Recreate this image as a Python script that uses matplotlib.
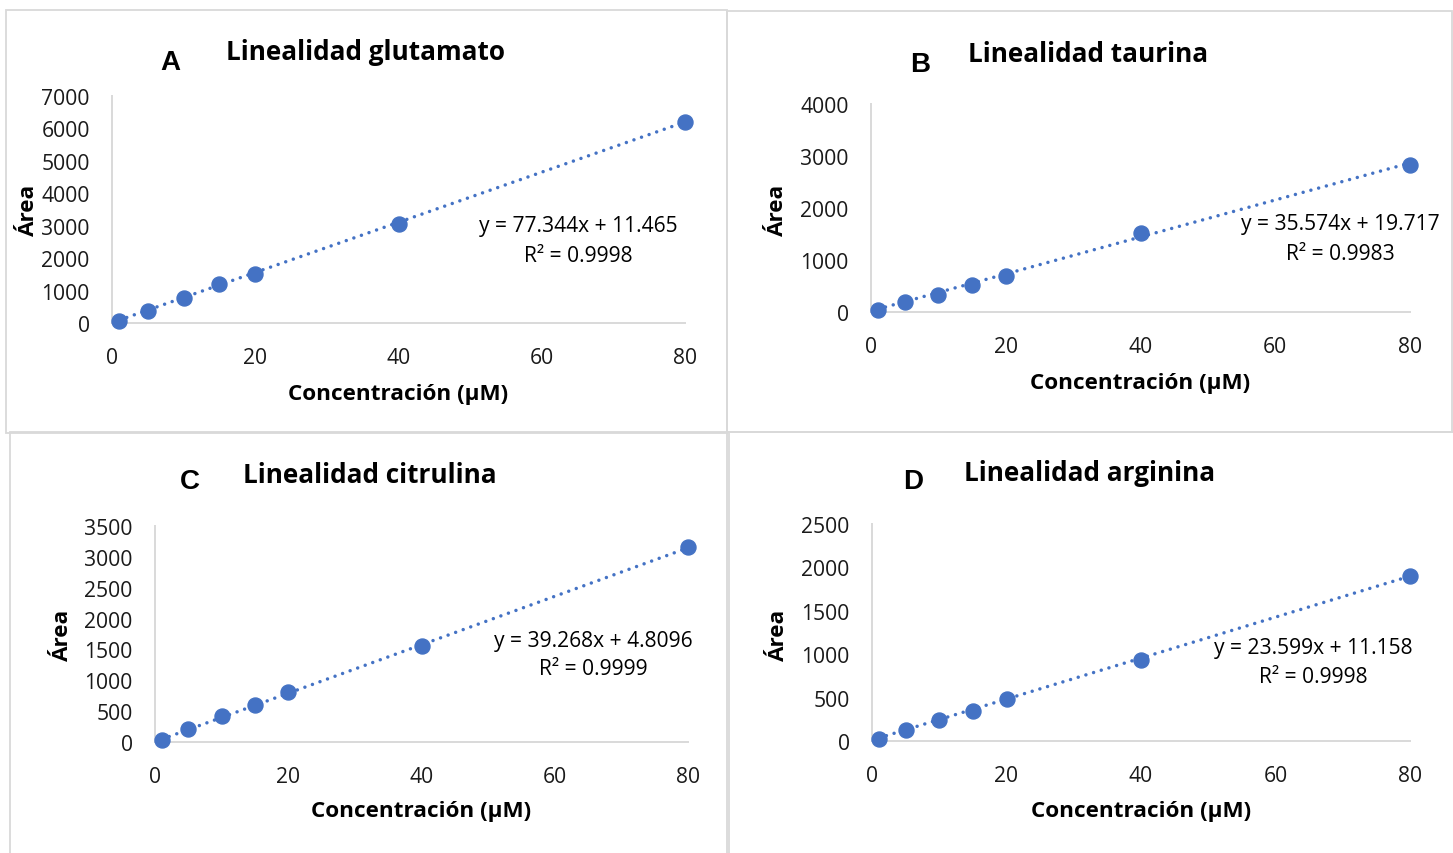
import matplotlib
matplotlib.use("Agg")
import matplotlib.pyplot as plt
from matplotlib.patches import Rectangle
import numpy as np

W, H = 1453, 854

# ---- data ----
conc = [1, 5, 10, 15, 20, 40, 80]
glutamato = [62, 370, 771, 1203, 1511, 3053, 6198]
taurina = [38, 192, 327, 519, 692, 1519, 2827]
citrulina = [32, 211, 421, 600, 810, 1555, 3160]
arginina = [23, 127, 242, 346, 484, 933, 1901]

titles = ["Linealidad glutamato", "Linealidad taurina", "Linealidad citrulina", "Linealidad arginina"]
letters = ["A", "B", "C", "D"]
slopes = [77.344, 35.574, 39.268, 23.599]
intercepts = [11.465, 19.717, 4.8096, 11.158]
eq_labels = ["y = 77.344x + 11.465", "y = 35.574x + 19.717", "y = 39.268x + 4.8096", "y = 23.599x + 11.158"]
r2_labels = ["R² = 0.9998", "R² = 0.9983", "R² = 0.9999", "R² = 0.9998"]
ymaxes = [7000, 4000, 3500, 2500]
ysteps = [1000, 1000, 500, 500]
xticks = [0, 20, 40, 60, 80]
series = [glutamato, taurina, citrulina, arginina]

# ---- layout (pixels) ----
axes_px = [(112, 685, 97, 324), (871, 1410, 105, 313), (155, 688, 527, 743), (872, 1410, 525, 742)]
title_px = [(366, 52), (1088, 54), (370, 476), (1090, 474)]
letter_px = [(170, 63), (920, 65), (190, 482), (913, 482)]
xlabel_px = [(398, 395), (1140, 384), (421, 812), (1141, 812)]
ylabel_px = [(28, 210), (777, 210), (62, 635), (778, 635)]
eq_px = [(578, 227, 256), (1340, 225, 254), (593, 642, 670), (1313, 649, 678)]
boxes_px = [(6, 11, 727, 434), (727, 12, 1452, 433), (10, 433, 727, 860), (729, 433, 1460, 860)]

BLUE = "#4472C4"
GRAY = "#D9D9D9"
FONT = ["Open Sans", "DejaVu Sans"]

fig = plt.figure(figsize=(W / 100, H / 100), dpi=100)
fig.patch.set_facecolor("white")

def fx(x):
    return x / W

def fy(y):
    return 1 - y / H

for (x0, y0, x1, y1) in boxes_px:
    fig.patches.append(Rectangle((fx(x0), fy(y1)), fx(x1) - fx(x0), fy(y0) - fy(y1),
                                 transform=fig.transFigure, fill=False,
                                 edgecolor=GRAY, linewidth=1.3, zorder=0))

for i in range(4):
    l, r, t, b = axes_px[i]
    ax = fig.add_axes([fx(l), fy(b), fx(r) - fx(l), fy(t) - fy(b)])
    ax.set_facecolor("none")
    ys = series[i]
    xs_line = np.array([min(conc), max(conc)])
    ax.plot(xs_line, slopes[i] * xs_line + intercepts[i], color=BLUE, lw=2.5,
            linestyle=(0, (0.01, 2.3)), dash_capstyle="round", zorder=2, clip_on=False)
    ax.plot(conc, ys, "o", color=BLUE, ms=10.8, mec=BLUE, zorder=3, clip_on=False)
    ax.set_xlim(0, 80)
    ax.set_ylim(0, ymaxes[i])
    ax.set_xticks(xticks)
    ax.set_yticks(np.arange(0, ymaxes[i] + 1, ysteps[i]))
    for s in ["top", "right"]:
        ax.spines[s].set_visible(False)
    for s in ["left", "bottom"]:
        ax.spines[s].set_color(GRAY)
        ax.spines[s].set_linewidth(1.4)
        ax.spines[s].set_zorder(1)
    ax.tick_params(length=0, labelsize=15.2, colors="#1a1a1a")
    ax.tick_params(axis="x", pad=17)
    ax.tick_params(axis="y", pad=16)
    for lab in ax.get_xticklabels() + ax.get_yticklabels():
        lab.set_family(FONT)

    tx, ty = title_px[i]
    fig.text(fx(tx), fy(ty), titles[i], ha="center", va="center", fontsize=18.8,
             fontweight="bold", family=FONT, color="black")
    lx, ly = letter_px[i]
    fig.text(fx(lx), fy(ly), letters[i], ha="center", va="center", fontsize=20,
             fontweight="bold", family=["Liberation Sans", "DejaVu Sans"], color="black")
    xx, xy = xlabel_px[i]
    fig.text(fx(xx), fy(xy), "Concentración (µM)", ha="center", va="center", fontsize=16.2,
             fontweight="bold", family=FONT, color="black")
    yx, yy = ylabel_px[i]
    fig.text(fx(yx), fy(yy), "Área", ha="center", va="center", fontsize=16.2, rotation=90,
             fontweight="bold", family=FONT, color="black")
    ex, e1, e2 = eq_px[i]
    fig.text(fx(ex), fy(e1), eq_labels[i], ha="center", va="center", fontsize=15.1,
             family=FONT, color="black")
    fig.text(fx(ex), fy(e2), r2_labels[i], ha="center", va="center", fontsize=15.1,
             family=FONT, color="black")

fig.savefig("out.png", dpi=100, facecolor="white")
